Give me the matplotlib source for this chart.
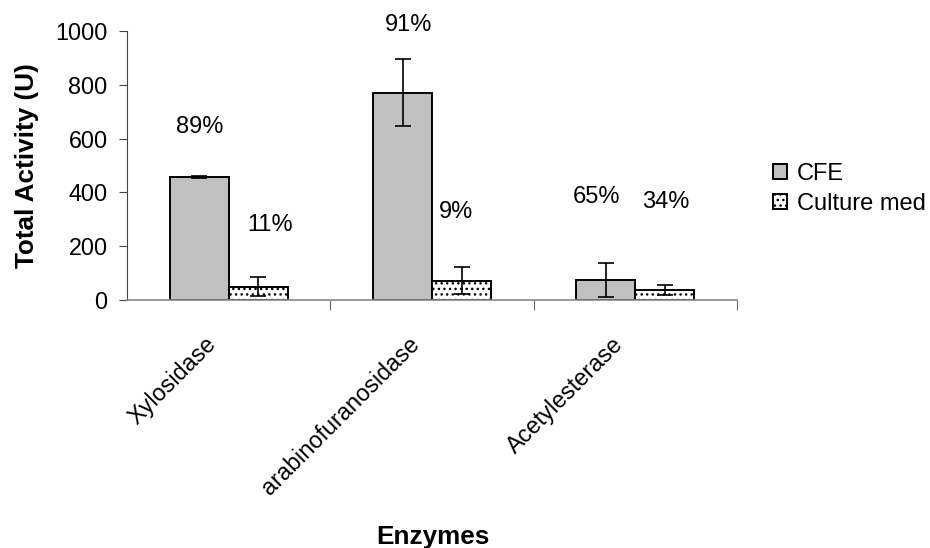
import matplotlib
matplotlib.use("Agg")
import matplotlib.pyplot as plt
import matplotlib.transforms as mtransforms
import numpy as np

plt.rcParams['font.family'] = ['Liberation Sans', 'DejaVu Sans']
plt.rcParams['hatch.linewidth'] = 1.0

# Enzyme activity data
enzymes = ["Xylosidase", "arabinofuranosidase", "Acetylesterase"]
cfe = [457, 771, 73]
cfe_err = [4, 126, 63]
culture = [50, 72, 36]
culture_err = [35, 50, 18]

cfe_pct = ["89%", "91%", "65%"]
culture_pct = ["11%", "9%", "34%"]

# where each percentage label sits (category units, activity units)
cfe_pct_pos = [(-0.145, 643), (0.884, 1022), (1.81, 384)]
culture_pct_pos = [(0.204, 279), (1.116, 328), (2.15, 365)]

fig = plt.figure(figsize=(9.3, 5.48), dpi=100)
ax = fig.add_axes([0.1366, 0.4526, 0.6559, 0.4908])

x = np.arange(len(enzymes))
w = 0.29

ax.bar(x - w / 2, cfe, w, color="#c0c0c0", edgecolor="black", linewidth=1.4,
       label="CFE", zorder=2)
ax.bar(x + w / 2, culture, w, color="white", edgecolor="black", linewidth=1.4,
       hatch="...", label="Culture med", zorder=2)

ax.errorbar(x - w / 2, cfe, yerr=cfe_err, fmt="none", ecolor="black",
            elinewidth=1.2, capsize=5.5, capthick=1.2, zorder=3)
ax.errorbar(x + w / 2, culture, yerr=culture_err, fmt="none", ecolor="black",
            elinewidth=1.2, capsize=5.5, capthick=1.2, zorder=3)

for (px, py), t in zip(cfe_pct_pos, cfe_pct):
    ax.text(px, py, t, ha="center", va="center", fontsize=17, clip_on=False)
for (px, py), t in zip(culture_pct_pos, culture_pct):
    ax.text(px, py, t, ha="center", va="center", fontsize=17, clip_on=False)

ax.set_xlim(-0.5, 2.5)
ax.set_ylim(0, 1000)
ax.set_yticks([0, 200, 400, 600, 800, 1000])
ax.tick_params(axis="y", labelsize=16.8, length=6, width=0.8, color="#444444",
               pad=8)

# category names, slanted; small ticks mark the category borders
ax.set_xticks(x)
ax.set_xticklabels(enzymes, rotation=45, ha="right", va="center",
                   rotation_mode="anchor", fontsize=16.8)
ax.tick_params(axis="x", which="major", length=0, pad=0)
shift = mtransforms.ScaledTranslation(-0.16, -0.41, fig.dpi_scale_trans)
for lab in ax.get_xticklabels():
    lab.set_transform(lab.get_transform() + shift)
ax.set_xticks([0.5, 1.5, 2.5], minor=True)
ax.tick_params(axis="x", which="minor", length=7, width=0.8, color="#666666")

for side in ("top", "right"):
    ax.spines[side].set_visible(False)
ax.spines["left"].set_color("#444444")
ax.spines["left"].set_linewidth(0.8)
ax.spines["bottom"].set_color("#888888")
ax.spines["bottom"].set_linewidth(1.2)

ax.set_ylabel("Total Activity (U)", fontsize=18.8, fontweight="bold", labelpad=12)
fig.text(0.466, 0.02, "Enzymes", ha="center", va="center", fontsize=18.8,
         fontweight="bold")

fig.legend(loc="upper left", bbox_to_anchor=(0.821, 0.72), frameon=False,
           fontsize=17, handlelength=0.6, handleheight=0.6,
           handletextpad=0.4, labelspacing=0.35, borderaxespad=0)

fig.savefig("out.png", dpi=100)
